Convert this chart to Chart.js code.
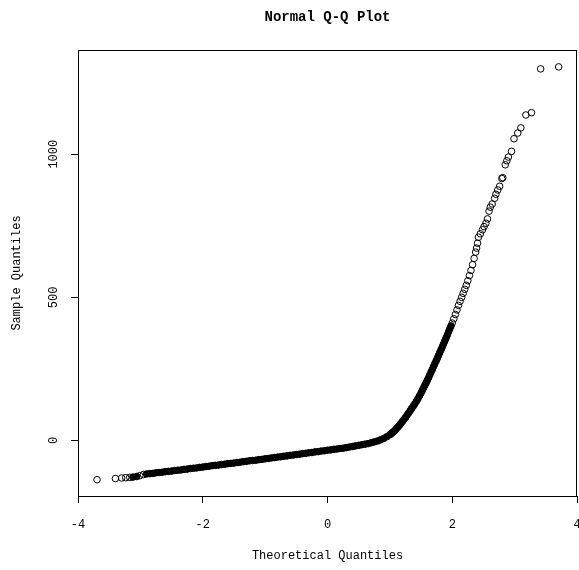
<!DOCTYPE html>
<html>
<head>
<meta charset="utf-8">
<script src="https://cdn.jsdelivr.net/npm/chart.js@4"></script>
<style>
  html, body { margin: 0; padding: 0; background: #fff; }
  canvas { display: block; }
</style>
</head>
<body>
<canvas id="qq" width="579" height="570"></canvas>
<script>
// Normal Q-Q plot: theoretical quantiles vs sample quantiles
const theoretical = [
  -3.695, -3.40, -3.30, -3.235, -3.17, -3.12, -3.06, -3.01,
  -2.95, -2.90, -2.85, -2.80, -2.75, -2.70, -2.65, -2.60, -2.55, -2.50,
  -2.45, -2.40, -2.35, -2.30, -2.25, -2.20, -2.15, -2.10, -2.05, -2.00,
  -1.95, -1.90, -1.85, -1.80, -1.75, -1.70, -1.65, -1.60, -1.55, -1.50,
  -1.45, -1.40, -1.35, -1.30, -1.25, -1.20, -1.15, -1.10, -1.05, -1.00,
  -0.95, -0.90, -0.85, -0.80, -0.75, -0.70, -0.65, -0.60, -0.55, -0.50,
  -0.45, -0.40, -0.35, -0.30, -0.25, -0.20, -0.15, -0.10, -0.05, 0.00,
  0.05, 0.10, 0.15, 0.20, 0.25, 0.30, 0.35, 0.40, 0.45, 0.50,
  0.55, 0.60, 0.65, 0.70, 0.75, 0.80, 0.85, 0.90, 0.95, 1.00,
  1.025, 1.05, 1.075, 1.10, 1.125, 1.15, 1.175, 1.20, 1.225, 1.25,
  1.275, 1.30, 1.325, 1.35, 1.375, 1.40, 1.425, 1.45, 1.475,
  1.50, 1.52, 1.54, 1.56, 1.58, 1.60, 1.62, 1.64, 1.66, 1.68,
  1.70, 1.72, 1.74, 1.76, 1.78, 1.80, 1.82, 1.84, 1.86, 1.88,
  1.90, 1.92, 1.94, 1.96, 1.98, 2.00,
  2.025, 2.05, 2.075, 2.10, 2.125, 2.15, 2.175, 2.20, 2.225, 2.25,
  2.275, 2.30, 2.325, 2.35, 2.375, 2.39, 2.405, 2.42,
  2.45, 2.485, 2.51, 2.54, 2.565, 2.59, 2.61, 2.64, 2.68, 2.70,
  2.73, 2.76, 2.795, 2.81, 2.85, 2.875, 2.90, 2.95, 2.99, 3.05,
  3.10, 3.18, 3.27, 3.417, 3.706
];
const sample = [
  -137, -133, -131, -130, -129, -128, -126, -123,
  -119, -117, -116, -115, -113, -112, -111, -109, -108, -107,
  -105, -104, -103, -101, -100, -98, -97, -96, -94, -93,
  -91, -90, -88, -87, -86, -84, -83, -81, -80, -79,
  -77, -76, -74, -73, -71, -70, -69, -67, -66, -64,
  -63, -61, -60, -58, -57, -55, -54, -52, -51, -49,
  -48, -46, -45, -43, -42, -40, -39, -37, -36, -34,
  -33, -31, -30, -28, -27, -25, -23, -21, -19, -17,
  -15, -13, -11, -8, -5, -2, 2, 7, 13, 20,
  24, 29, 34, 40, 46, 52, 59, 66, 73, 80,
  88, 96, 104, 112, 120, 128, 137, 146, 156,
  166, 175, 184, 192, 201, 210, 219, 229, 239, 248,
  258, 268, 277, 287, 297, 307, 317, 327, 337, 347,
  358, 368, 379, 389, 400, 410,
  425, 440, 456, 472, 486, 500, 514, 528, 542, 558,
  576, 594, 614, 636, 658, 672, 689, 710,
  722, 736, 747, 759, 774, 801, 815, 826, 846, 860,
  875, 888, 915, 918, 963, 977, 990, 1010, 1054, 1074,
  1092, 1137, 1145, 1298, 1305
];
const xTicks = [-4, -2, 0, 2, 4];
const yTicks = [0, 500, 1000];

const FONT = '"Liberation Mono", "DejaVu Sans Mono", monospace';

// where circles pile up so tightly they read as a solid band, fill them
function pointFill(ctx) {
  const i = ctx.dataIndex;
  const sx = ctx.chart.scales.x, sy = ctx.chart.scales.y;
  const px = v => sx.getPixelForValue(v), py = v => sy.getPixelForValue(v);
  let worst = 0;
  for (const j of [i - 1, i + 1]) {
    if (j < 0 || j >= theoretical.length) return 'rgba(0,0,0,0)';
    const d = Math.hypot(px(theoretical[j]) - px(theoretical[i]), py(sample[j]) - py(sample[i]));
    if (d > worst) worst = d;
  }
  return worst < 3.8 ? '#000' : 'rgba(0,0,0,0)';
}

// full box round the plot region, like R's bty="o"
const boxPlugin = {
  id: 'box',
  afterDraw(chart) {
    const { ctx, chartArea: a } = chart;
    ctx.save();
    ctx.strokeStyle = '#000';
    ctx.lineWidth = 1;
    ctx.strokeRect(Math.round(a.left) + 0.5, Math.round(a.top) + 0.5,
                   Math.round(a.right - a.left) - 1, Math.round(a.bottom - a.top));
    ctx.restore();
  }
};

new Chart(document.getElementById('qq'), {
  type: 'scatter',
  data: {
    datasets: [{
      data: theoretical.map((x, i) => ({ x: x, y: sample[i] })),
      pointStyle: 'circle',
      pointRadius: 3.3,
      pointBorderWidth: 1,
      pointBorderColor: '#000',
      pointBackgroundColor: pointFill
    }]
  },
  options: {
    responsive: false,
    devicePixelRatio: 1,
    animation: false,
    events: [],
    layout: { autoPadding: false, padding: { left: 0, right: 2, top: 0, bottom: 0 } },
    plugins: {
      legend: { display: false },
      tooltip: { enabled: false },
      title: {
        display: true,
        text: 'Normal Q-Q Plot',
        fullSize: false,
        color: '#000',
        font: { family: FONT, size: 14, weight: 'bold', lineHeight: '18px' },
        padding: { top: 8, bottom: 24 }
      }
    },
    scales: {
      x: {
        type: 'linear',
        min: -4,
        max: 4,
        afterBuildTicks: s => { s.ticks = xTicks.map(v => ({ value: v })); },
        afterFit: s => { s.height = 74; s.paddingLeft = 0; s.paddingRight = 0; },
        grid: { drawOnChartArea: false, drawTicks: true, tickLength: 7, tickColor: '#000', color: '#000' },
        border: { display: true, color: '#000' },
        ticks: { color: '#000', font: { family: FONT, size: 12 }, padding: 15, maxRotation: 0 },
        title: {
          display: true,
          text: 'Theoretical Quantiles',
          color: '#000',
          font: { family: FONT, size: 12 },
          padding: { top: 0, bottom: 7 }
        }
      },
      y: {
        type: 'linear',
        min: -194,
        max: 1364,
        afterBuildTicks: s => { s.ticks = yTicks.map(v => ({ value: v })); },
        afterFit: s => { s.width = 78; s.paddingTop = 0; s.paddingBottom = 0; },
        grid: { drawOnChartArea: false, drawTicks: true, tickLength: 7, tickColor: '#000', color: '#000' },
        border: { display: true, color: '#000' },
        ticks: {
          color: '#000',
          font: { family: FONT, size: 12 },
          padding: 3,
          minRotation: 90,
          maxRotation: 90,
          crossAlign: 'center',
          callback: v => String(v)
        },
        title: {
          display: true,
          text: 'Sample Quantiles',
          color: '#000',
          font: { family: FONT, size: 12 },
          padding: { top: 10, bottom: 0 }
        }
      }
    }
  },
  plugins: [boxPlugin]
});
</script>
</body>
</html>
